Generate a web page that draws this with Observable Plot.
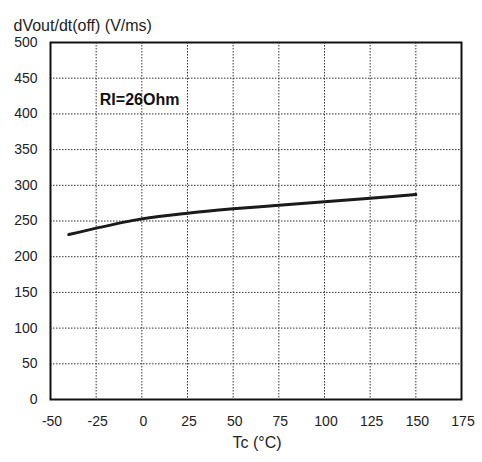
<!DOCTYPE html>
<html>
<head>
<meta charset="utf-8">
<script src="https://cdn.jsdelivr.net/npm/d3@7"></script>
<script src="https://cdn.jsdelivr.net/npm/@observablehq/plot@0.6"></script>
<style>
  html, body { margin: 0; padding: 0; background: #fff; }
  svg { font-family: "Liberation Sans", Arial, sans-serif; }
</style>
</head>
<body>
<div id="chart"></div>
<script>
const tc = [-40, -25, 0, 25, 50, 75, 100, 125, 150];
const dvdt = [231, 240, 253, 261, 267, 272, 277, 282, 287];
const xTicks = [-50, -25, 0, 25, 50, 75, 100, 125, 150, 175];
const yTicks = [0, 50, 100, 150, 200, 250, 300, 350, 400, 450, 500];
const annotationText = ["RI=26Ohm"];
const annotationX = [-23];
const annotationY = [420];
const yTitle = "dVout/dt(off) (V/ms)";
const xTitle = "Tc (\u00B0C)";

const data = tc.map((t, i) => ({t, v: dvdt[i]}));
const notes = annotationText.map((s, i) => ({s, x: annotationX[i], y: annotationY[i]}));

const chart = Plot.plot({
  width: 482,
  height: 462,
  marginLeft: 50,
  marginRight: 21,
  marginTop: 42,
  marginBottom: 63,
  style: {fontSize: "14px", color: "#222", fontFamily: "'Liberation Sans', Arial, sans-serif"},
  x: {domain: [-50, 175], ticks: xTicks},
  y: {domain: [0, 500], ticks: yTicks},
  marks: [
    Plot.gridX(xTicks, {stroke: "#333", strokeOpacity: 1, strokeWidth: 1, strokeDasharray: "1.5,1.5"}),
    Plot.gridY(yTicks, {stroke: "#333", strokeOpacity: 1, strokeWidth: 1, strokeDasharray: "1.5,1.5"}),
    Plot.axisX(xTicks, {tickSize: 0, tickPadding: 17, dx: 1.5, tickFormat: d => String(d), label: null, fontSize: 14}),
    Plot.axisY(yTicks, {tickSize: 0, tickPadding: 13, tickFormat: d => String(d), label: null, fontSize: 14}),
    Plot.frame({stroke: "#111", strokeWidth: 2}),
    Plot.line(data, {x: "t", y: "v", stroke: "#1a1a1a", strokeWidth: 3, curve: "monotone-x"}),
    Plot.text(notes, {x: "x", y: "y", text: "s", fontWeight: "bold", fontSize: 16, textAnchor: "start", fill: "#111"}),
    Plot.text([yTitle], {frameAnchor: "top-left", text: d => d, dx: -37, dy: -23, textAnchor: "start", fontSize: 16, fill: "#222"}),
    Plot.text([xTitle], {frameAnchor: "bottom", text: d => d, dx: 1, dy: 48, textAnchor: "middle", fontSize: 16, fill: "#222"})
  ]
});
document.getElementById("chart").appendChild(chart);
</script>
</body>
</html>
